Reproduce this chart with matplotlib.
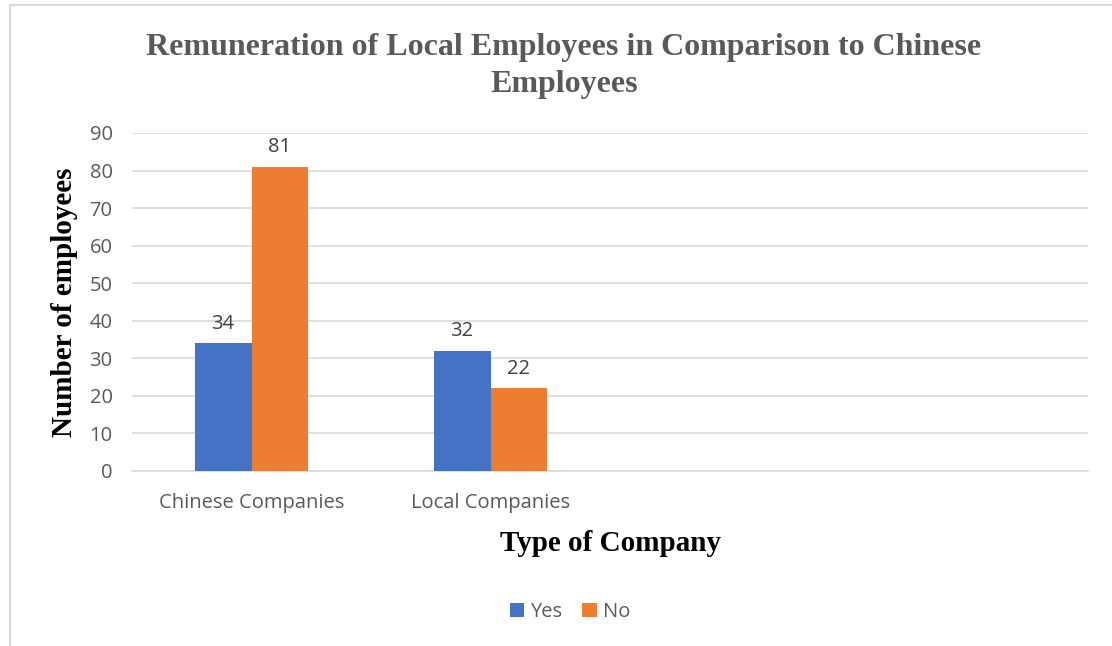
import matplotlib

matplotlib.use("Agg")
import matplotlib.pyplot as plt
import numpy as np
from matplotlib.patches import Rectangle

# data
categories = ["Chinese Companies", "Local Companies", "", ""]
yes_values = [34, 32, None, None]
no_values = [81, 22, None, None]
series_names = ["Yes", "No"]
y_ticks = [0, 10, 20, 30, 40, 50, 60, 70, 80, 90]

BLUE = "#4472C4"
ORANGE = "#ED7D31"
GRAY = "#595959"
SANS = ["Open Sans", "DejaVu Sans"]
SERIF = ["Liberation Serif", "DejaVu Serif"]
FS = 14.5

fig = plt.figure(figsize=(11.12, 6.46), dpi=100)
ax = fig.add_axes([132 / 1112, 1 - 471 / 646, (1088 - 132) / 1112, (471 - 133) / 646])

x = np.arange(len(categories))
width = 0.238
for vals, color, name, off in [(yes_values, BLUE, series_names[0], -0.5),
                               (no_values, ORANGE, series_names[1], 0.5)]:
    xs = [xi + off * width for xi, v in zip(x, vals) if v is not None]
    vs = [v for v in vals if v is not None]
    bars = ax.bar(xs, vs, width=width, color=color, label=name, zorder=3)
    for b, v in zip(bars, vs):
        ax.text(b.get_x() + b.get_width() / 2, v + 2.5, str(v), ha="center", va="bottom",
                fontsize=FS, color="#404040", family=SANS)

ax.set_xlim(-0.5, len(categories) - 0.5)
ax.set_ylim(0, 90)
ax.set_yticks(y_ticks)
ax.set_yticklabels([str(t) for t in y_ticks], fontsize=FS, color=GRAY, family=SANS)
ax.set_xticks(x)
ax.set_xticklabels(categories, fontsize=FS, color=GRAY, family=SANS)
ax.tick_params(length=0)
ax.tick_params(axis="y", pad=14)
ax.tick_params(axis="x", pad=16)
ax.grid(axis="y", color="#D9D9D9", linewidth=1.2, zorder=0)
for s in ["top", "right", "left"]:
    ax.spines[s].set_visible(False)
ax.spines["bottom"].set_color("#D9D9D9")
ax.spines["bottom"].set_linewidth(1.2)

ax.set_ylabel("Number of employees", fontsize=21, fontweight="bold", color="#000000",
              family=SERIF, labelpad=8)
ax.set_xlabel("Type of Company", fontsize=21, fontweight="bold", color="#000000",
              family=SERIF, labelpad=12)

fig.text(564 / 1112, 1 - 66 / 646, "Remuneration of Local Employees in Comparison to Chinese\nEmployees",
         ha="center", va="center", fontsize=23, fontweight="bold", color=GRAY,
         family=SERIF, linespacing=1.4)

leg = fig.legend(loc="center", bbox_to_anchor=(570 / 1112, 1 - 612 / 646), ncol=2, frameon=False,
                 prop={"family": SANS, "size": FS}, handlelength=0.7, handleheight=0.7,
                 columnspacing=1.0, handletextpad=0.3)
for t in leg.get_texts():
    t.set_color(GRAY)

# chart frame
fig.patches.append(Rectangle((10 / 1112, -0.1), 1.2, 1 - 5 / 646 + 0.1, transform=fig.transFigure,
                             fill=False, edgecolor="#D9D9D9", linewidth=1.5))

fig.savefig("out.png", dpi=100)
